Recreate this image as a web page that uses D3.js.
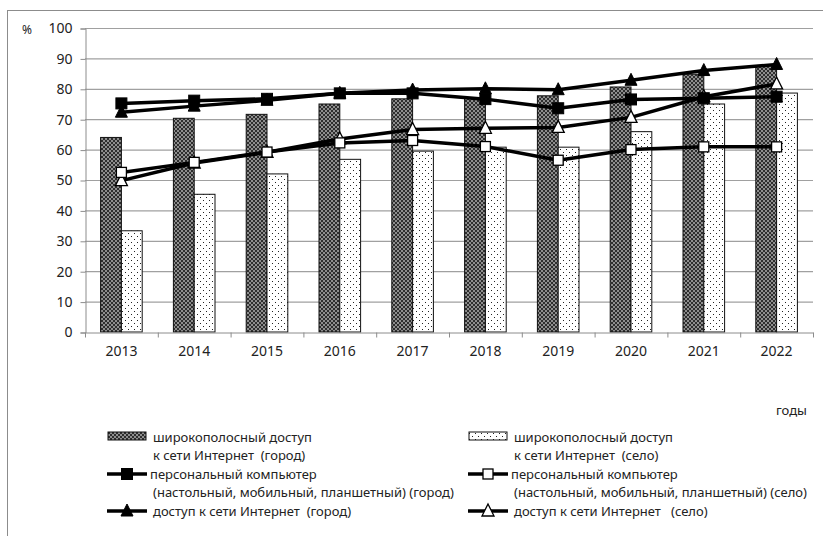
<!DOCTYPE html>
<html>
<head>
<meta charset="utf-8">
<script src="https://cdn.jsdelivr.net/npm/d3@7"></script>
<style>
  body { margin: 0; background: #fff; }
  text { font-family: "Noto Sans", "Open Sans", sans-serif; fill: #222; white-space: pre; }
</style>
</head>
<body>
<div id="chart"></div>
<script>
// data
var years = [2013, 2014, 2015, 2016, 2017, 2018, 2019, 2020, 2021, 2022];
var bbCity = [64, 70.3, 71.6, 75, 76.7, 77.1, 77.7, 80.6, 84.8, 87.6];
var bbVillage = [33.3, 45.3, 52, 56.8, 59.5, 60.8, 60.8, 65.9, 75, 78.6];
var pcCity = [75.2, 76.1, 76.7, 78.5, 78.5, 76.6, 73.6, 76.5, 76.9, 77.4];
var pcVillage = [52.5, 55.8, 59.2, 62.2, 63, 61, 56.5, 60, 60.9, 60.9];
var netCity = [72.3, 74.3, 76.2, 78.5, 79.6, 80, 79.7, 82.8, 86, 88];
var netVillage = [49.8, 55.6, 59.1, 63.5, 66.6, 67, 67.3, 70.6, 77.4, 81.6];
var yTicks = [0, 10, 20, 30, 40, 50, 60, 70, 80, 90, 100];

var legendLabels = [
  ["широкополосный доступ", "к сети Интернет  (город)"],
  ["широкополосный доступ", "к сети Интернет  (село)"],
  ["персональный компьютер", "(настольный, мобильный, планшетный) (город)"],
  ["персональный компьютер", "(настольный, мобильный, планшетный) (село)"],
  ["доступ к сети Интернет  (город)"],
  ["доступ к сети Интернет   (село)"]
];

var svgWidth = 823;
var svgHeight = 536;
var margin = { top: 28, left: 85 };
var width = 728;
var height = 304;

var svg = d3.select("#chart")
  .append("svg")
  .attr("width", svgWidth)
  .attr("height", svgHeight);

// patterns for the bars
var defs = svg.append("defs");
var dark = defs.append("pattern")
  .attr("id", "darkFill")
  .attr("patternUnits", "userSpaceOnUse")
  .attr("width", 4).attr("height", 4);
dark.append("rect").attr("width", 4).attr("height", 4).attr("fill", "#8e8e8e");
dark.append("rect").attr("width", 2).attr("height", 2).attr("fill", "#2e2e2e");
dark.append("rect").attr("x", 2).attr("y", 2).attr("width", 2).attr("height", 2).attr("fill", "#2e2e2e");

var dots = defs.append("pattern")
  .attr("id", "dotFill")
  .attr("patternUnits", "userSpaceOnUse")
  .attr("width", 6).attr("height", 6);
dots.append("rect").attr("width", 6).attr("height", 6).attr("fill", "#fff");
dots.append("rect").attr("x", 1).attr("y", 1).attr("width", 1).attr("height", 1).attr("fill", "#222");
dots.append("rect").attr("x", 4).attr("y", 4).attr("width", 1).attr("height", 1).attr("fill", "#222");

// outer frame
svg.append("rect")
  .attr("x", 7.5).attr("y", 10.5)
  .attr("width", 840).attr("height", 560)
  .attr("fill", "none")
  .attr("stroke", "#8c8c8c");

var chartGroup = svg.append("g")
  .attr("transform", `translate(${margin.left}, ${margin.top})`);

// scales
var xScale = d3.scaleBand().domain(years).range([0, width]).padding(0);
var subScale = d3.scaleBand().domain(["city", "village"])
  .range([0, xScale.bandwidth()])
  .paddingInner(0).paddingOuter(0.75);
var yScale = d3.scaleLinear().domain([0, 100]).range([height, 0]);

// grid
chartGroup.append("g")
  .selectAll("line")
  .data(yTicks.slice(1))
  .enter()
  .append("line")
  .attr("x1", 0).attr("x2", width)
  .attr("y1", d => yScale(d) + 0.5).attr("y2", d => yScale(d) + 0.5)
  .attr("stroke", "#a0a0a0")
  .attr("stroke-width", 1.2);

// y axis
var yAxis = d3.axisLeft(yScale).tickValues(yTicks).tickSize(5).tickPadding(8);
var yG = chartGroup.append("g").attr("transform", "translate(0.5,0.5)").call(yAxis);
yG.selectAll("path, line").attr("stroke", "#8c8c8c");
yG.selectAll("text").attr("font-size", "14px").style("fill", "#222");

// bars
var bars = chartGroup.append("g");
bars.selectAll(".bbCity")
  .data(bbCity)
  .enter()
  .append("rect")
  .attr("x", (d, i) => xScale(years[i]) + subScale("city"))
  .attr("y", d => yScale(d))
  .attr("width", subScale.bandwidth())
  .attr("height", d => height - yScale(d))
  .attr("fill", "url(#darkFill)")
  .attr("stroke", "#111")
  .attr("stroke-width", 1);
bars.selectAll(".bbVillage")
  .data(bbVillage)
  .enter()
  .append("rect")
  .attr("x", (d, i) => xScale(years[i]) + subScale("village"))
  .attr("y", d => yScale(d))
  .attr("width", subScale.bandwidth())
  .attr("height", d => height - yScale(d))
  .attr("fill", "url(#dotFill)")
  .attr("stroke", "#111")
  .attr("stroke-width", 1);

// x axis
var xAxis = d3.axisBottom(xScale).tickSize(0).tickPadding(14);
var xG = chartGroup.append("g")
  .attr("transform", `translate(0, ${height + 0.5})`)
  .call(xAxis);
xG.select("path").attr("stroke", "#8c8c8c");
xG.selectAll("text").attr("font-size", "14px").style("fill", "#222");
xG.selectAll(".sep")
  .data(d3.range(years.length + 1))
  .enter()
  .append("line")
  .attr("x1", d => d * xScale.step() + 0.5).attr("x2", d => d * xScale.step() + 0.5)
  .attr("y1", 0).attr("y2", 5)
  .attr("stroke", "#8c8c8c");

// lines with markers
var cx = i => xScale(years[i]) + xScale.bandwidth() / 2;
var lineGen = d3.line().x((d, i) => cx(i)).y(d => yScale(d));

function drawMarker(g, type, x, y) {
  if (type === "square" || type === "openSquare") {
    var h = type === "square" ? 5.5 : 5;
    g.append("rect")
      .attr("x", x - h).attr("y", y - h)
      .attr("width", 2 * h).attr("height", 2 * h)
      .attr("fill", type === "square" ? "#000" : "#fff")
      .attr("stroke", "#000")
      .attr("stroke-width", type === "square" ? 1 : 1.3);
  } else {
    var s = 6;
    g.append("path")
      .attr("d", `M${x},${y - s - 1}L${x + s},${y + s - 1}L${x - s},${y + s - 1}Z`)
      .attr("fill", type === "triangle" ? "#000" : "#fff")
      .attr("stroke", "#000")
      .attr("stroke-width", type === "triangle" ? 1 : 1.3);
  }
}

var lineSeries = [
  { values: netVillage, marker: "openTriangle" },
  { values: pcVillage, marker: "openSquare" },
  { values: pcCity, marker: "square" },
  { values: netCity, marker: "triangle" }
];

lineSeries.forEach(function(s) {
  var g = chartGroup.append("g");
  g.append("path")
    .attr("d", lineGen(s.values))
    .attr("fill", "none")
    .attr("stroke", "#000")
    .attr("stroke-width", 3.5)
    .attr("stroke-linejoin", "round");
  s.values.forEach(function(v, i) {
    drawMarker(g, s.marker, cx(i), yScale(v));
  });
});

// axis captions
svg.append("text").attr("x", 22).attr("y", 34).attr("font-size", "12px").text("%");
svg.append("text").attr("x", 776).attr("y", 415).attr("font-size", "13px").text("годы");

// legend
var legend = svg.append("g");
var colX = [107, 468];
var rowY = [442, 479, 516];
var lineH = 18;
var legendKeys = ["dark", "dots", "square", "openSquare", "triangle", "openTriangle"];

legendKeys.forEach(function(k, i) {
  var col = i % 2;
  var row = Math.floor(i / 2);
  var x = colX[col];
  var y = rowY[row];
  var g = legend.append("g");
  if (k === "dark" || k === "dots") {
    g.append("rect")
      .attr("x", x + 1).attr("y", y - 10)
      .attr("width", 38).attr("height", 8)
      .attr("fill", k === "dark" ? "url(#darkFill)" : "url(#dotFill)")
      .attr("stroke", "#111");
  } else {
    g.append("line")
      .attr("x1", x).attr("x2", x + 40)
      .attr("y1", y - 5).attr("y2", y - 5)
      .attr("stroke", "#000").attr("stroke-width", 3.5);
    drawMarker(g, k, x + 20, y - 5);
  }
  legendLabels[i].forEach(function(t, j) {
    var dx = (k === "square" || k === "openSquare") ? (j > 0 ? 46 : 43) : 46;
    g.append("text")
      .attr("x", x + dx)
      .attr("y", y + j * lineH)
      .attr("font-size", "13px")
      .text(t);
  });
});
</script>
</body>
</html>
